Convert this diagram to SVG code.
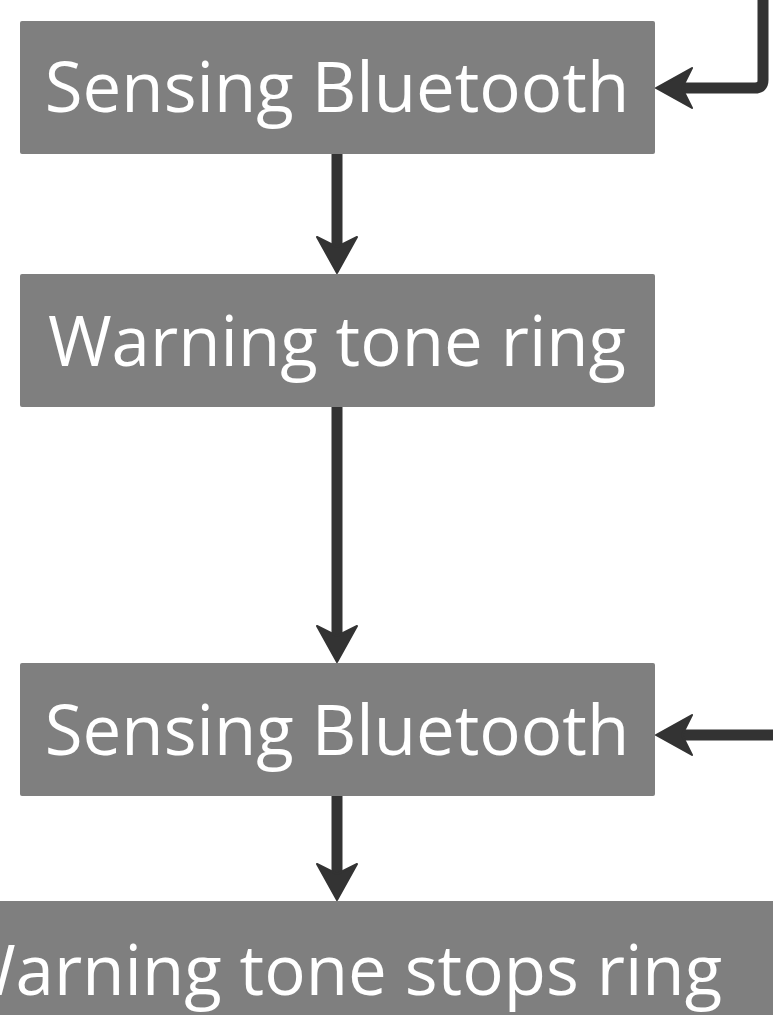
<svg xmlns="http://www.w3.org/2000/svg" width="773" height="1015" viewBox="0 0 773 1015">
  <style>
    .box { fill: #7f7f7f; }
    .lbl { fill: #ffffff; font-family: "Open Sans", "Noto Sans", sans-serif; font-size: 69px; text-anchor: middle; }
    .edge { fill: none; stroke: #333333; stroke-width: 11; stroke-linejoin: round; }
  </style>
  <defs>
    <marker id="ah" markerUnits="userSpaceOnUse" markerWidth="40" markerHeight="44" viewBox="0 -22 38 44" refX="10" refY="0" orient="auto">
      <path d="M36,0 L0,-20 L10,0 L0,20 Z" fill="#333333" stroke="#333333" stroke-width="2" stroke-linejoin="round"/>
    </marker>
  </defs>
  <rect width="773" height="1015" fill="#ffffff"/>

  <g id="connectors">
    <path class="edge" d="M763,0 L763,80 Q763,88 755,88 L682,88" marker-end="url(#ah)"/>
    <path class="edge" d="M337,154 L337,247" marker-end="url(#ah)"/>
    <path class="edge" d="M337,407 L337,636" marker-end="url(#ah)"/>
    <path class="edge" d="M773,735 L682,735" marker-end="url(#ah)"/>
    <path class="edge" d="M337,796 L337,874" marker-end="url(#ah)"/>
  </g>

  <g id="node1">
    <rect class="box" x="20" y="21" width="635" height="133" rx="2"/>
    <text class="lbl" x="337" y="112">Sensing Bluetooth</text>
  </g>
  <g id="node2">
    <rect class="box" x="20" y="274" width="635" height="133" rx="2"/>
    <text class="lbl" x="337" y="366">Warning tone ring</text>
  </g>
  <g id="node3">
    <rect class="box" x="20" y="663" width="635" height="133" rx="2"/>
    <text class="lbl" x="337" y="755">Sensing Bluetooth</text>
  </g>
  <g id="node4">
    <rect class="box" x="-60" y="901" width="900" height="140" rx="2"/>
    <text class="lbl" x="337" y="995">Warning tone stops ring</text>
  </g>
</svg>
